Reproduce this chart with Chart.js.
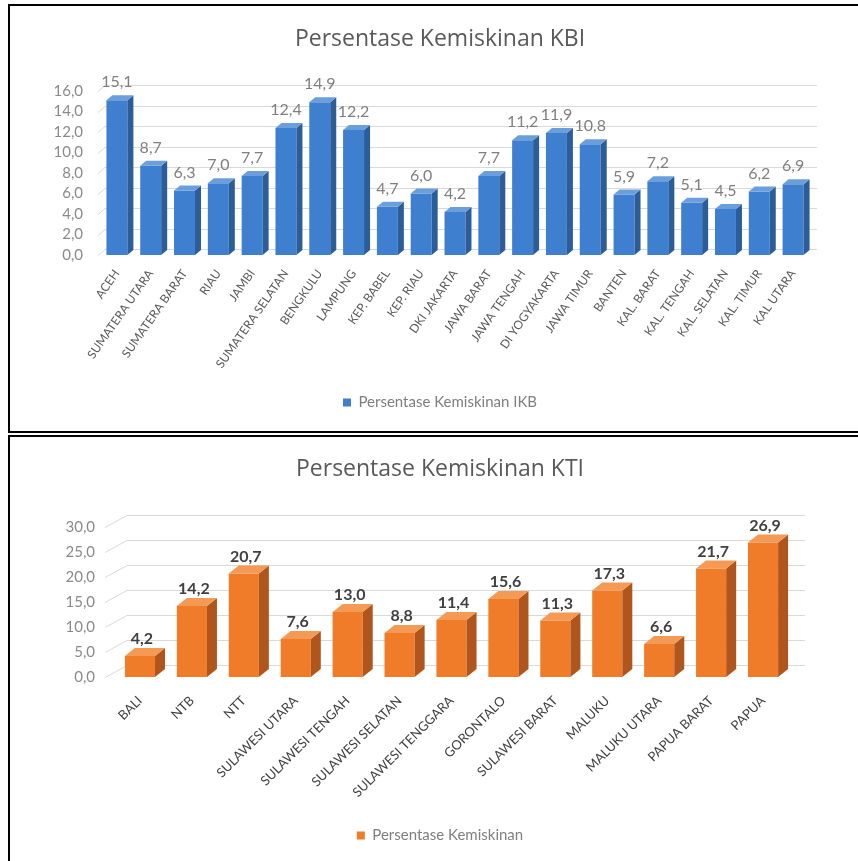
<!DOCTYPE html>
<html>
<head>
<meta charset="utf-8">
<title>Persentase Kemiskinan</title>
<script src="https://cdn.jsdelivr.net/npm/chart.js@4.4.1/dist/chart.umd.min.js"></script>
<style>
  body { margin: 0; background: #fff; width: 858px; height: 861px; overflow: hidden; position: relative; }
  .box { position: absolute; left: 8px; width: 860px; border: 2px solid #000; border-right: none; box-sizing: border-box; }
  #box1 { top: 4px; height: 429px; }
  #box2 { top: 435px; height: 440px; border-bottom: none; }
  .wrap { position: absolute; left: 0; }
  #wrap1 { top: 0; }
  #wrap2 { top: 433px; }
</style>
</head>
<body>
<div class="box" id="box1"></div>
<div class="box" id="box2"></div>
<div class="wrap" id="wrap1"><canvas id="chartKBI" width="858" height="432"></canvas></div>
<div class="wrap" id="wrap2"><canvas id="chartKTI" width="858" height="428"></canvas></div>
<script>
// data KBI
const kbiLabels = ['ACEH', 'SUMATERA UTARA', 'SUMATERA BARAT', 'RIAU', 'JAMBI', 'SUMATERA SELATAN', 'BENGKULU',
  'LAMPUNG', 'KEP. BABEL', 'KEP. RIAU', 'DKI JAKARTA', 'JAWA BARAT', 'JAWA TENGAH', 'DI YOGYAKARTA',
  'JAWA TIMUR', 'BANTEN', 'KAL. BARAT', 'KAL. TENGAH', 'KAL. SELATAN', 'KAL. TIMUR', 'KAL UTARA'];
const kbiValues = [15.1, 8.7, 6.3, 7.0, 7.7, 12.4, 14.9, 12.2, 4.7, 6.0, 4.2, 7.7, 11.2, 11.9, 10.8, 5.9, 7.2, 5.1, 4.5, 6.2, 6.9];
const kbiTicks = { min: 0, max: 16, step: 2 };

// data KTI
const ktiLabels = ['BALI', 'NTB', 'NTT', 'SULAWESI UTARA', 'SULAWESI TENGAH', 'SULAWESI SELATAN',
  'SULAWESI TENGGARA', 'GORONTALO', 'SULAWESI BARAT', 'MALUKU', 'MALUKU UTARA', 'PAPUA BARAT', 'PAPUA'];
const ktiValues = [4.2, 14.2, 20.7, 7.6, 13.0, 8.8, 11.4, 15.6, 11.3, 17.3, 6.6, 21.7, 26.9];
const ktiTicks = { min: 0, max: 30, step: 5 };

const fmt = (v) => Number(v).toFixed(1).replace('.', ',');

// grid lines on the back wall, with a short floor diagonal on the left
const backGrid = {
  id: 'backGrid',
  beforeDatasetsDraw(chart, args, opts) {
    const { ctx, chartArea } = chart;
    const yScale = chart.scales.y;
    ctx.save();
    ctx.strokeStyle = opts.color;
    ctx.lineWidth = 1;
    yScale.ticks.forEach((t) => {
      const py = Math.round(yScale.getPixelForValue(t.value)) + 0.5;
      ctx.beginPath();
      ctx.moveTo(chartArea.left + opts.sx, py);
      ctx.lineTo(chartArea.left + opts.dx, py - opts.dy);
      ctx.lineTo(chartArea.right + opts.ex, py - opts.dy);
      ctx.stroke();
    });
    ctx.restore();
  },
};

// side + top faces so the bars look like the excel 3D columns
const bar3d = {
  id: 'bar3d',
  afterDatasetsDraw(chart, args, opts) {
    const { ctx } = chart;
    chart.getDatasetMeta(0).data.forEach((bar) => {
      const { x, y, base, width } = bar.getProps(['x', 'y', 'base', 'width'], true);
      const l = x - width / 2;
      const r = x + width / 2;
      ctx.save();
      ctx.fillStyle = opts.side;
      ctx.beginPath();
      ctx.moveTo(r, y);
      ctx.lineTo(r + opts.dx, y - opts.dy);
      ctx.lineTo(r + opts.dx, base - opts.dy);
      ctx.lineTo(r, base);
      ctx.closePath();
      ctx.fill();
      ctx.fillStyle = opts.top;
      ctx.beginPath();
      ctx.moveTo(l, y);
      ctx.lineTo(l + opts.dx, y - opts.dy);
      ctx.lineTo(r + opts.dx, y - opts.dy);
      ctx.lineTo(r, y);
      ctx.closePath();
      ctx.fill();
      ctx.restore();
    });
  },
};

const valueLabels = {
  id: 'valueLabels',
  afterDatasetsDraw(chart, args, opts) {
    const { ctx } = chart;
    const data = chart.data.datasets[0].data;
    ctx.save();
    ctx.font = opts.font;
    ctx.fillStyle = opts.color;
    ctx.textAlign = 'center';
    ctx.textBaseline = 'middle';
    chart.getDatasetMeta(0).data.forEach((bar, i) => {
      ctx.fillText(fmt(data[i]), bar.x + opts.dx, bar.y - opts.dy);
    });
    ctx.restore();
  },
};

function makeChart(id, cfg) {
  return new Chart(document.getElementById(id), {
    type: 'bar',
    data: {
      labels: cfg.labels,
      datasets: [
        {
          label: cfg.legend,
          data: cfg.values,
          backgroundColor: cfg.color,
          borderWidth: 0,
          barPercentage: cfg.barPct,
          categoryPercentage: 1,
        },
      ],
    },
    plugins: [backGrid, bar3d, valueLabels],
    options: {
      responsive: false,
      animation: false,
      layout: { padding: cfg.padding },
      scales: {
        x: {
          grid: { display: false, drawTicks: false },
          border: { display: false },
          ticks: {
            autoSkip: false,
            minRotation: cfg.rot,
            maxRotation: cfg.rot,
            color: cfg.xColor,
            font: { family: 'Lato', size: cfg.xSize },
            padding: cfg.xPad,
          },
          afterFit: (s) => { s.height = cfg.xHeight; },
        },
        y: {
          min: cfg.ticks.min,
          max: cfg.ticks.max,
          grid: { display: false, drawTicks: false },
          border: { display: false },
          ticks: {
            autoSkip: false,
            stepSize: cfg.ticks.step,
            color: '#8a8a8a',
            font: { family: 'Lato', size: 15 },
            padding: cfg.yPad,
            callback: (v) => fmt(v),
          },
          afterFit: (s) => { s.width = cfg.yWidth; },
        },
        // empty axis on the right, only to keep title and legend centred like the original
        yRight: {
          type: 'linear',
          position: 'right',
          grid: { display: false, drawTicks: false },
          border: { display: false },
          ticks: { display: false },
          afterFit: (s) => { s.width = cfg.rightWidth; },
        },
      },
      plugins: {
        title: {
          display: true,
          text: cfg.title,
          color: '#595959',
          font: { family: 'Open Sans', size: 23, weight: 'normal' },
          padding: cfg.titlePad,
        },
        legend: {
          position: 'bottom',
          labels: {
            boxWidth: 8,
            boxHeight: 8,
            padding: 10,
            color: '#7f7f7f',
            font: { family: 'Lato', size: 15 },
          },
        },
        tooltip: { enabled: false },
        backGrid: cfg.grid,
        bar3d: cfg.depth,
        valueLabels: cfg.valueLabel,
      },
    },
  });
}

makeChart('chartKBI', {
  labels: kbiLabels,
  values: kbiValues,
  ticks: kbiTicks,
  title: 'Persentase Kemiskinan KBI',
  legend: 'Persentase Kemiskinan IKB',
  color: '#3f7fcf',
  barPct: 0.62,
  padding: { left: 48, right: 26, top: 0, bottom: 12 },
  titlePad: { top: 26, bottom: 37.4 },
  rot: 55,
  xColor: '#595959',
  xSize: 12,
  xPad: 12,
  xHeight: 130,
  yWidth: 52,
  yPad: 17,
  rightWidth: 22,
  grid: { color: '#d9d9d9', sx: -2, dx: 5, dy: 6, ex: 7 },
  depth: { dx: 6, dy: 5, side: '#2b5d99', top: '#6b9fdb' },
  valueLabel: { font: '16px Lato', color: '#7f7f7f', dx: 0, dy: 18 },
});

makeChart('chartKTI', {
  labels: ktiLabels,
  values: ktiValues,
  ticks: ktiTicks,
  title: 'Persentase Kemiskinan KTI',
  legend: 'Persentase Kemiskinan',
  color: '#f07b28',
  barPct: 0.58,
  padding: { left: 55, right: 33, top: 0, bottom: 8 },
  titlePad: { top: 23, bottom: 43.4 },
  rot: 45,
  xColor: '#404040',
  xSize: 13,
  xPad: 16,
  xHeight: 141,
  yWidth: 59,
  yPad: 19,
  rightWidth: 36,
  grid: { color: '#d9d9d9', sx: -9, dx: 13, dy: 12, ex: 16 },
  depth: { dx: 10, dy: 8, side: '#b0561c', top: '#f49a55' },
  valueLabel: { font: 'bold 16px Lato', color: '#404040', dx: 2, dy: 17 },
});
</script>
</body>
</html>
